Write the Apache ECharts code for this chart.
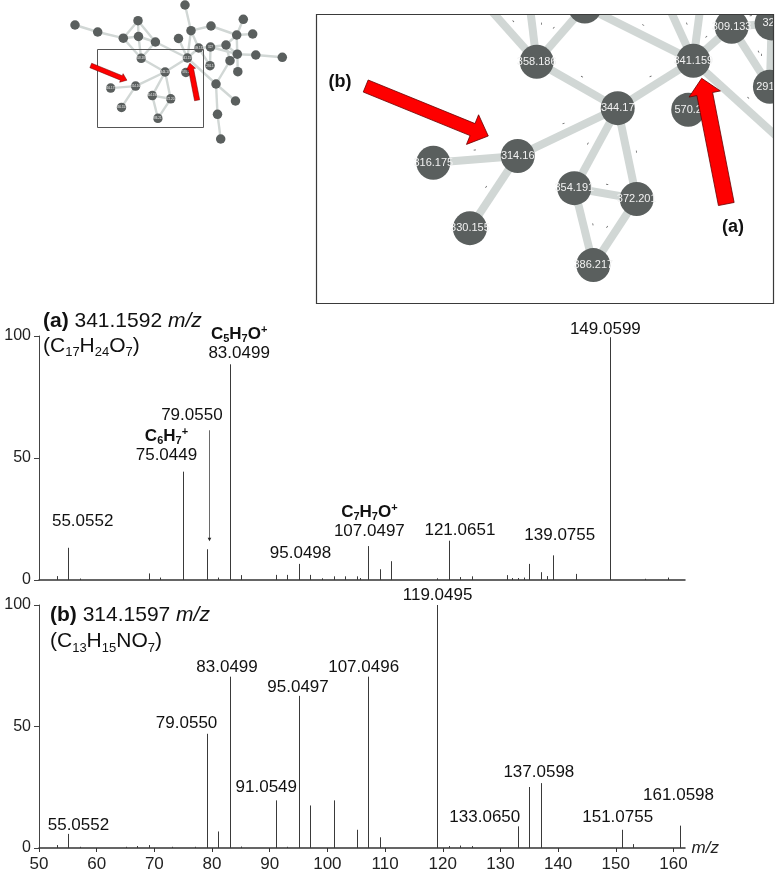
<!DOCTYPE html>
<html><head><meta charset="utf-8">
<script src="https://cdn.jsdelivr.net/npm/echarts@6/dist/echarts.min.js"></script>
<style>html,body{margin:0;padding:0;background:#fff}#c{width:775px;height:873px}</style>
</head><body><div id="c"></div>
<script>
// ---------------- network (layout units) ----------------
const nodeLabels = ['', '', '', '', '', '', '358.186', '', '', '', '309.133', '341.159', '570.2', '', '327', '', '', '', '', '', '', '', '', '', '291.1', '', '', '', '', '344.17', '314.16', '316.175', '330.155', '354.191', '372.201', '386.217'];
const nodeX = [75, 97.7, 138, 123.3, 138.5, 155.4, 141.2, 185, 191, 178.5, 198.7, 187.4, 185.9, 211, 210.5, 226, 236.7, 243.3, 252.7, 237.3, 230, 255.8, 282.3, 237.8, 210.0, 216, 235.5, 217.5, 220.7, 165.1, 135.6, 110.7, 121.5, 152.3, 170.7, 157.9];
const nodeY = [25, 32, 20.7, 38.2, 36.5, 42.0, 58.3, 5, 30.7, 38.5, 48.0, 58.0, 72.5, 26, 47.0, 45, 35, 19.3, 34, 54.2, 60.7, 55, 57.3, 71.7, 65.7, 84, 101, 114.3, 139, 72.0, 86.1, 88.1, 107.4, 95.6, 98.8, 118.3];
const linkPairs = [[0,1],[1,3],[2,3],[2,4],[2,5],[3,4],[4,5],[3,6],[4,6],[5,6],[5,11],[6,29],[7,8],[8,10],[8,11],[8,13],[9,11],[10,11],[10,14],[10,24],[14,24],[13,16],[14,15],[15,16],[16,17],[16,18],[16,19],[15,19],[15,20],[14,19],[19,21],[21,22],[19,23],[20,25],[11,25],[25,26],[25,27],[27,28],[11,29],[29,30],[29,33],[29,34],[30,31],[30,32],[33,34],[33,35],[34,35]];
// annotations in layout units
const arrowTails = [[90.76, 65.47], [197.13, 100.28]];
const arrowTips  = [[126.92, 80.22], [189.87, 63.2]];
const zoomBox = [96.7, 49.3, 202.3, 127.7];

// ---------------- spectra ----------------
const specA_mz  = [53.04, 55.0552, 57.07, 69.03, 71.05, 75.0449, 79.0550, 81.07, 83.0499, 85.06, 91.05, 93.07, 95.0498, 97.06, 99.04, 101.06, 103.05, 105.07, 105.6, 107.0497, 109.06, 111.04, 119.05, 121.0651, 123.04, 125.06, 131.07, 132.05, 133.06, 134.05, 135.04, 137.06, 138.05, 139.0755, 143.07, 149.0599, 155.06, 159.05];
const specA_int = [1.6, 13.2, 0.6, 2.7, 1.0, 44.4, 12.6, 1.0, 88.4, 2.0, 2.1, 2.1, 6.6, 2.1, 0.7, 1.5, 1.5, 1.5, 0.8, 13.9, 4.4, 7.7, 0.7, 16.1, 1.2, 1.5, 2.0, 0.8, 0.8, 1.0, 6.6, 3.2, 1.6, 10.1, 2.5, 99.5, 0.5, 1.0];
const specA_labels = ['55.0552', '75.0449', '79.0550', '83.0499', '95.0498', '107.0497', '121.0651', '139.0755', '149.0599'];
const specA_ions   = ['', 'C6H7+', '', 'C5H7O+', '', 'C7H7O+', '', '', ''];

const specB_mz  = [53.04, 55.0552, 57.03, 65.04, 67.05, 69.03, 73.05, 77.04, 79.0550, 81.07, 83.0499, 85.06, 91.0549, 93.07, 95.0497, 97.06, 101.06, 105.07, 107.0496, 109.06, 119.0495, 121.06, 123.04, 125.06, 133.0650, 135.04, 137.0598, 151.0755, 153.05, 161.0598];
const specB_int = [1.2, 5.8, 0.5, 0.5, 0.8, 1.2, 0.5, 0.5, 47.0, 6.8, 70.5, 0.6, 19.6, 0.5, 62.6, 17.5, 19.6, 7.5, 70.5, 4.4, 100, 0.8, 1.0, 0.8, 8.9, 25.1, 26.7, 7.5, 1.6, 9.2];
const specB_labels = ['55.0552', '79.0550', '83.0499', '91.0549', '95.0497', '107.0496', '119.0495', '133.0650', '137.0598', '151.0755', '161.0598'];
const specB_ions   = ['', '', '', '', '', '', '', '', '', '', ''];

const xTicks = [50, 60, 70, 80, 90, 100, 110, 120, 130, 140, 150, 160];
const titleA = {tag: '(a)', mz: '341.1592', formula: 'C17H24O7'};
const titleB = {tag: '(b)', mz: '314.1597', formula: 'C13H15NO7'};

// ---------------- styles (label offsets in px from peak top) ----------------
const F = '"Liberation Sans", Arial, Helvetica, sans-serif';
const offA = {
  '55.0552': {dx: 14.5, dy: -26}, '75.0449': {dx: -17, dy: -16.7},
  '79.0550': {dx: -14.7, dy: -133.6, arrow: {dx: 2.6, from: -119, to: -8}},
  '83.0499': {dx: 9.5, dy: -11}, '95.0498': {dx: 1.7, dy: -10.7}, '107.0497': {dx: 1.3, dy: -15},
  '121.0651': {dx: 11, dy: -10.7}, '139.0755': {dx: 7, dy: -19.6}, '149.0599': {dx: -5, dy: -8}
};
const offB = {
  '55.0552': {dx: 10.3, dy: -9}, '79.0550': {dx: -20, dy: -10.7}, '83.0499': {dx: -2.6, dy: -9.4},
  '91.0549': {dx: -9.5, dy: -13.4}, '95.0497': {dx: -0.8, dy: -8.3}, '107.0496': {dx: -4.4, dy: -9.7},
  '119.0495': {dx: 0.3, dy: -10}, '133.0650': {dx: -33.3, dy: -9.4}, '137.0598': {dx: -2.3, dy: -10.6},
  '151.0755': {dx: -4.3, dy: -12.3}, '161.0598': {dx: -1, dy: -30}
};

const chart = echarts.init(document.getElementById('c'));

function ionRich(s) {
  let out = '';
  const parts = s.match(/[A-Za-z]+|\d+|\+/g) || [];
  parts.forEach(p => {
    if (/\d/.test(p)) out += '{fs|' + p + '}';
    else if (p === '+') out += '{fp|+}';
    else out += '{f|' + p + '}';
  });
  return out;
}
function formulaRich(s) {
  return '(' + s.replace(/(\d+)/g, '{s|$1}') + ')';
}
const labelRich = {
  f: {fontSize: 17, fontWeight: 'bold', fontFamily: F, lineHeight: 20, fill: '#111'},
  fs: {fontSize: 11, fontWeight: 'bold', fontFamily: F, verticalAlign: 'bottom', fill: '#111'},
  fp: {fontSize: 11, fontWeight: 'bold', fontFamily: F, verticalAlign: 'top', fill: '#111'}
};

function stickRender(params, api) {
  const m = api.value(0), v = api.value(1);
  const p0 = api.coord([m, 0]), p1 = api.coord([m, v]);
  const x = Math.round(p0[0]) + 0.5;
  return {type: 'line', shape: {x1: x, y1: p0[1], x2: x, y2: p1[1]}, style: {stroke: '#3a3a3a', lineWidth: 1}, silent: true};
}
function makeLabelRender(labels, ions, offs) {
  return function (params, api) {
    const i = params.dataIndex;
    const pt = api.coord([api.value(0), api.value(1)]);
    const lab = labels[i], o = offs[lab] || {dx: 0, dy: -10};
    const txt = (ions[i] ? ionRich(ions[i]) + '\n' : '') + lab;
    const children = [{
      type: 'text', x: pt[0] + o.dx, y: pt[1] + o.dy + 8.5, silent: true,
      style: {text: txt, rich: labelRich, align: 'center', verticalAlign: 'bottom', fontSize: 17, fontFamily: F, lineHeight: 17, fill: '#111'}
    }];
    if (o.arrow) {
      const ax = Math.round(pt[0] + o.arrow.dx) + 0.5;
      const y0 = pt[1] + o.arrow.from, y1 = pt[1] + o.arrow.to;
      children.push({type: 'line', shape: {x1: ax, y1: y0, x2: ax, y2: y1 - 2}, style: {stroke: '#444', lineWidth: 0.8}, silent: true});
      children.push({type: 'polygon', shape: {points: [[ax - 1.8, y1 - 3.5], [ax + 1.8, y1 - 3.5], [ax, y1]]}, style: {fill: '#222'}, silent: true});
    }
    return {type: 'group', children};
  };
}
function peakInt(mzs, ints, m) {
  let best = 0, d = 1e9;
  mzs.forEach((v, i) => { if (Math.abs(v - m) < d) { d = Math.abs(v - m); best = i; } });
  return ints[best];
}

const nodes = nodeX.map((x, i) => ({id: 'n' + i, name: 'n' + i, value: [x, nodeY[i]], lbl: nodeLabels[i]}));
const links = linkPairs.map(([s, t]) => ({source: 'n' + s, target: 'n' + t}));

function graphSeries(idx, size, lw, fs, edgeLab) {
  return {
    type: 'graph', coordinateSystem: 'cartesian2d', xAxisIndex: idx, yAxisIndex: idx,
    symbol: 'circle', symbolSize: size, silent: true, roam: false,
    itemStyle: {color: '#5a5f5e'},
    lineStyle: {color: '#d1d7d5', width: lw, opacity: 1, curveness: 0},
    label: {show: true, position: 'inside', color: '#f2f2f2', fontSize: fs, fontFamily: F, formatter: p => p.data.lbl},
    edgeLabel: {show: edgeLab, formatter: '-', fontSize: 9, color: '#555', fontFamily: F},
    emphasis: {disabled: true},
    data: nodes, links: links
  };
}

const yAxisSpec = (g) => ({
  gridIndex: g, type: 'value', min: 0, max: 100, interval: 50,
  axisLine: {show: true, lineStyle: {color: '#444', width: 1}},
  axisTick: {show: true, length: 5, lineStyle: {color: '#444'}},
  axisLabel: {fontSize: 16, color: '#222', fontFamily: F, margin: 8},
  splitLine: {show: false}
});

const option = {
  animation: false,
  backgroundColor: '#fff',
  grid: [
    {left: 60, top: 0, width: 240, height: 145},
    {left: 316, top: 14, width: 457, height: 289},
    {left: 39, top: 336, width: 646, height: 244},
    {left: 39, top: 605, width: 646, height: 243}
  ],
  xAxis: [
    {gridIndex: 0, type: 'value', min: 60, max: 300, show: false},
    {gridIndex: 1, type: 'value', min: 76.10, max: 210.91, show: false},
    {gridIndex: 2, type: 'value', min: 50, max: 162,
      axisLine: {show: true, onZero: false, lineStyle: {color: '#333', width: 1.5}},
      axisTick: {show: false}, axisLabel: {show: false}, splitLine: {show: false}},
    {gridIndex: 3, type: 'value', min: 50, max: 162,
      name: 'm/z', nameLocation: 'end', nameGap: 5,
      nameTextStyle: {fontStyle: 'italic', fontSize: 17, color: '#222', fontFamily: F, padding: [8, 0, 0, 0]},
      axisLine: {show: true, onZero: false, lineStyle: {color: '#333', width: 1.5}},
      axisTick: {show: true, length: 4, lineStyle: {color: '#333'}, customValues: xTicks},
      axisLabel: {fontSize: 17, color: '#222', fontFamily: F, margin: 8, customValues: xTicks},
      splitLine: {show: false}}
  ],
  yAxis: [
    {gridIndex: 0, type: 'value', min: 0, max: 145, inverse: true, show: false},
    {gridIndex: 1, type: 'value', min: 44.23, max: 129.48, inverse: true, show: false},
    yAxisSpec(2), yAxisSpec(3)
  ],
  series: [
    graphSeries(0, 9.5, 2.4, 3, false),
    graphSeries(1, 34, 8, 11, true),
    {type: 'custom', xAxisIndex: 2, yAxisIndex: 2, silent: true, renderItem: stickRender,
      data: specA_mz.map((m, i) => [m, specA_int[i]])},
    {type: 'custom', xAxisIndex: 3, yAxisIndex: 3, silent: true, renderItem: stickRender,
      data: specB_mz.map((m, i) => [m, specB_int[i]])},
    {type: 'custom', xAxisIndex: 2, yAxisIndex: 2, silent: true, z: 5,
      renderItem: makeLabelRender(specA_labels, specA_ions, offA),
      data: specA_labels.map(l => [parseFloat(l), peakInt(specA_mz, specA_int, parseFloat(l))])},
    {type: 'custom', xAxisIndex: 3, yAxisIndex: 3, silent: true, z: 5,
      renderItem: makeLabelRender(specB_labels, specB_ions, offB),
      data: specB_labels.map(l => [parseFloat(l), peakInt(specB_mz, specB_int, parseFloat(l))])}
  ]
};
chart.setOption(option);

// ---------- annotations ----------
function arrowPoly(T, P, w, h, L) {
  const dx = P[0] - T[0], dy = P[1] - T[1], len = Math.hypot(dx, dy);
  const ux = dx / len, uy = dy / len, nx = -uy, ny = ux;
  const B = [P[0] - ux * L, P[1] - uy * L];
  return [
    [T[0] + nx * w, T[1] + ny * w], [B[0] + nx * w, B[1] + ny * w], [B[0] + nx * h, B[1] + ny * h],
    P,
    [B[0] - nx * h, B[1] - ny * h], [B[0] - nx * w, B[1] - ny * w], [T[0] - nx * w, T[1] - ny * w]
  ];
}
const px = (g, p) => chart.convertToPixel({gridIndex: g}, p);
const graphics = [];
graphics.push({type: 'rect', z: 50, silent: true, shape: {x: 316, y: 0, width: 460, height: 14.5}, style: {fill: '#fff'}});
graphics.push({type: 'rect', z: 50, silent: true, shape: {x: 773.5, y: 0, width: 3, height: 305}, style: {fill: '#fff'}});
graphics.push({type: 'rect', z: 51, silent: true, shape: {x: 316.5, y: 14.5, width: 457, height: 289}, style: {fill: 'none', stroke: '#3a3a3a', lineWidth: 1.2}});
const zb0 = px(0, [zoomBox[0], zoomBox[1]]), zb1 = px(0, [zoomBox[2], zoomBox[3]]);
graphics.push({type: 'rect', z: 51, silent: true, shape: {x: Math.round(zb0[0]) + 0.5, y: Math.round(zb0[1]) + 0.5, width: Math.round(zb1[0] - zb0[0]), height: Math.round(zb1[1] - zb0[1])}, style: {fill: 'none', stroke: '#555', lineWidth: 1}});
const insetSizes = [[6.5, 16, 17], [8, 16, 16]];
const ovSizes = [[2.4, 4.6, 6], [2.6, 4.6, 6]];
arrowTails.forEach((t, i) => {
  const Ti = px(1, t), Pi = px(1, arrowTips[i]);
  const s = insetSizes[i];
  graphics.push({type: 'polygon', z: 52, silent: true, shape: {points: arrowPoly(Ti, Pi, s[0], s[1], s[2])}, style: {fill: '#fe0000', stroke: '#6a0000', lineWidth: 0.8}});
  const To = px(0, t), Po = px(0, arrowTips[i]);
  const so = ovSizes[i];
  graphics.push({type: 'polygon', z: 52, silent: true, shape: {points: arrowPoly(To, Po, so[0], so[1], so[2])}, style: {fill: '#fe0000', stroke: '#6a0000', lineWidth: 0.5}});
});
graphics.push({type: 'text', z: 53, silent: true, x: 340, y: 82, style: {text: '(b)', fontSize: 18, fontWeight: 'bold', fontFamily: F, fill: '#111', align: 'center', verticalAlign: 'middle'}});
graphics.push({type: 'text', z: 53, silent: true, x: 733, y: 227, style: {text: '(a)', fontSize: 18, fontWeight: 'bold', fontFamily: F, fill: '#111', align: 'center', verticalAlign: 'middle'}});
const titleRich = {
  b: {fontSize: 21, fontWeight: 'bold', fontFamily: F, lineHeight: 25, fill: '#111'},
  i: {fontSize: 21, fontStyle: 'italic', fontFamily: F, lineHeight: 25, fill: '#111'},
  s: {fontSize: 13, fontFamily: F, verticalAlign: 'bottom', fill: '#111'}
};
function titleText(t) {
  return '{b|' + t.tag + '} ' + t.mz + ' {i|m/z}\n' + formulaRich(t.formula);
}
graphics.push({type: 'text', z: 53, silent: true, x: 43, y: 309, style: {text: titleText(titleA), rich: titleRich, fontSize: 21, fontFamily: F, lineHeight: 25, fill: '#111', align: 'left', verticalAlign: 'top'}});
graphics.push({type: 'text', z: 53, silent: true, x: 50, y: 602.5, style: {text: titleText(titleB), rich: titleRich, fontSize: 21, fontFamily: F, lineHeight: 26, fill: '#111', align: 'left', verticalAlign: 'top'}});
chart.setOption({graphic: graphics});
</script></body></html>
